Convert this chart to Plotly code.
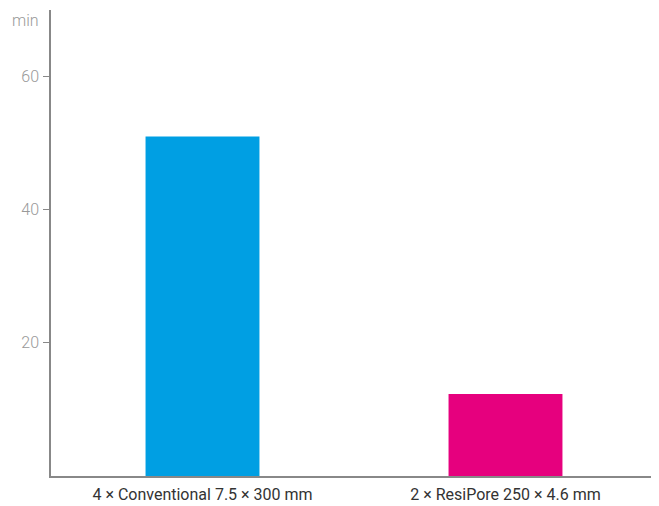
import plotly.graph_objects as go

categories = ["4 × Conventional 7.5 × 300 mm", "2 × ResiPore 250 × 4.6 mm"]
values = [51.0, 12.3]
colors = ["#009FE3", "#E6007E"]
y_ticks = [20, 40, 60]

fig = go.Figure(go.Bar(x=categories, y=values, marker=dict(color=colors, line=dict(width=0))))

fig.update_layout(
    width=651, height=498,
    margin=dict(l=43, r=2, t=2, b=30, autoexpand=False),
    paper_bgcolor="white", plot_bgcolor="white",
    bargap=0.624,
    showlegend=False,
    font=dict(family="Roboto", size=16, color="#333333"),
    xaxis=dict(showline=True, linecolor="#888888", linewidth=1.5, ticks="",
               showgrid=False, zeroline=False, ticklabelstandoff=3,
               tickfont=dict(family="Roboto", size=16, color="#333333")),
    yaxis=dict(range=[0, 70], tickvals=y_ticks, showline=True, linecolor="#888888", linewidth=1.5,
               ticks="outside", ticklen=6, tickcolor="#888888", tickwidth=1,
               showgrid=False, zeroline=False, ticklabelstandoff=1,
               tickfont=dict(family="Roboto", size=16, color="#999999", weight=300)),
    annotations=[dict(text="min", xref="paper", yref="paper", x=0, y=1,
                      xanchor="right", yanchor="middle", xshift=-10, yshift=-10,
                      showarrow=False, font=dict(family="Roboto", size=16, color="#999999", weight=300))],
)

fig.write_html("out.html")
